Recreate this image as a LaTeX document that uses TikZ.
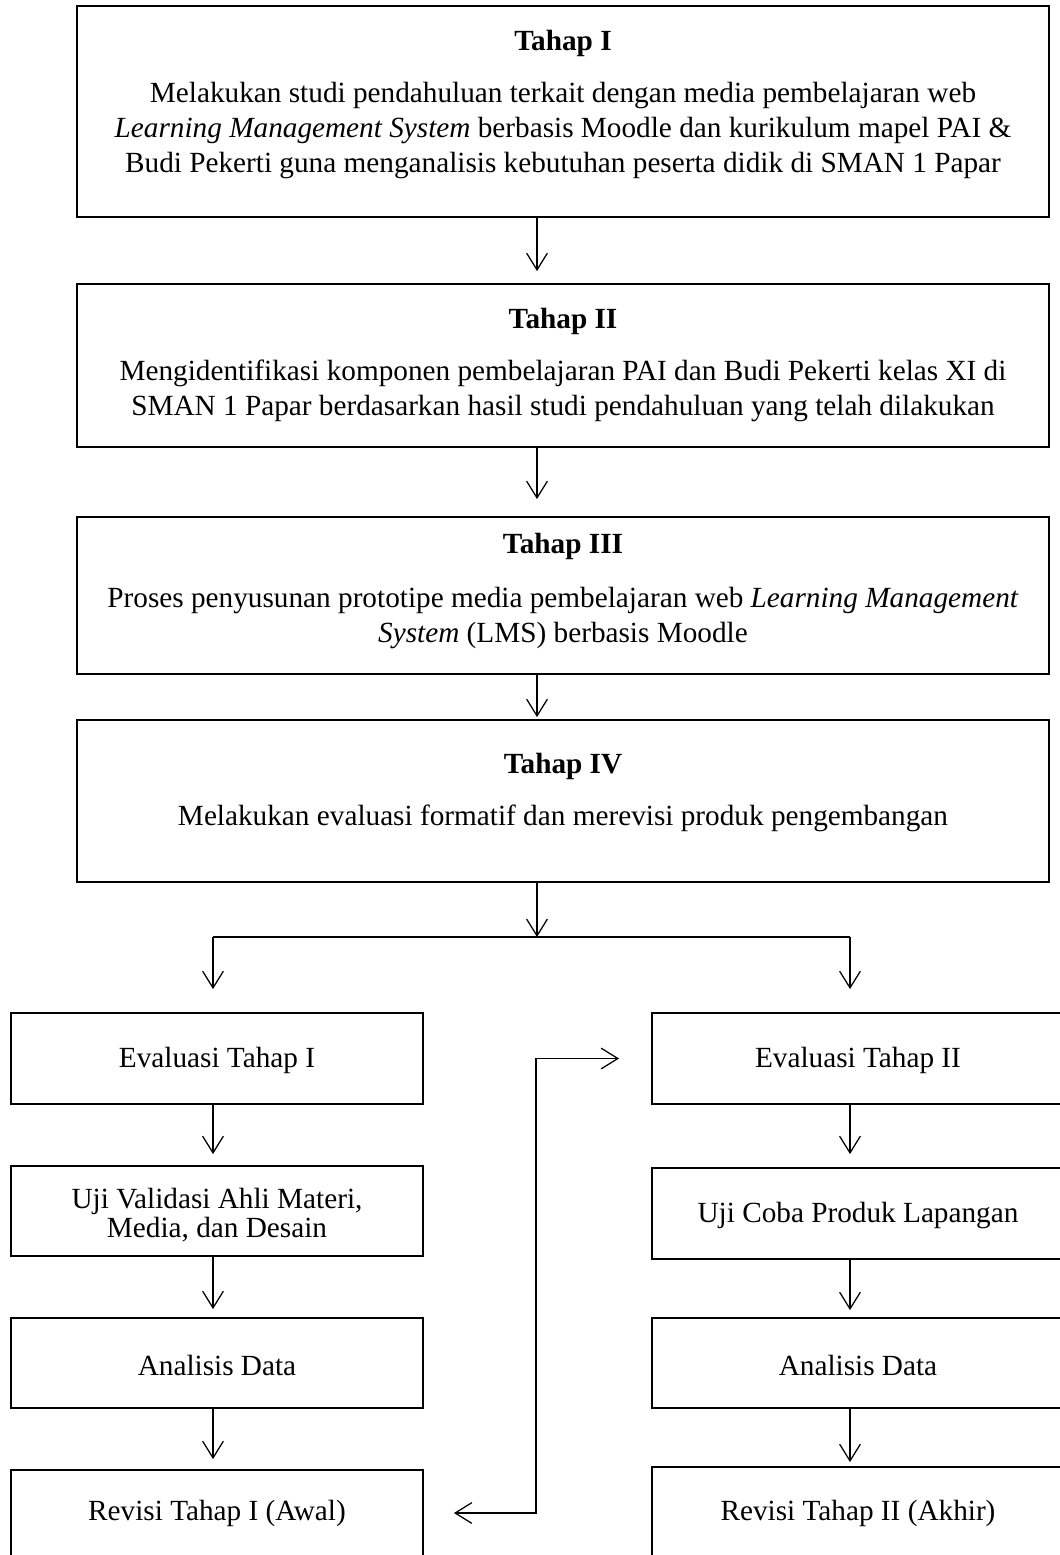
\documentclass[tikz,border=0pt]{standalone}
\usepackage{fontspec}
\setmainfont{Liberation Serif}
\usetikzlibrary{arrows.meta,fit}
\begin{document}
\begin{tikzpicture}[x=0.4pt,y=-0.4pt,
  box/.style={draw,line width=0.75pt,rectangle,inner sep=0pt},
  ttl/.style={font=\fontsize{11.7}{14}\selectfont\bfseries,inner sep=0pt},
  body/.style={font=\fontsize{11.7}{14}\selectfont,align=center,inner sep=0pt},
  small/.style={font=\fontsize{11.7}{10.4}\selectfont,align=center,inner sep=0pt},
  conn/.style={line width=0.5pt},
  arr/.style={conn,-{Straight Barb[length=6.7pt,width=8.3pt]}},
  darr/.style={conn,{Straight Barb[length=6.7pt,width=8.3pt]}-{Straight Barb[length=6.7pt,width=8.3pt]}}]
\useasboundingbox (0,0) rectangle (1060,1555);
\clip (0,0) rectangle (1060,1555);
% big boxes
\node[box,fit={(77,6) (1049,217)}] (t1) {};
\node[box,fit={(77,284) (1049,447)}] (t2) {};
\node[box,fit={(77,517) (1049,674)}] (t3) {};
\node[box,fit={(77,720) (1049,882)}] (t4) {};
% left column
\node[box,fit={(11,1013) (423,1104)}] (e1) {};
\node[box,fit={(11,1166) (423,1256)}] (u1) {};
\node[box,fit={(11,1318) (423,1408)}] (a1) {};
\node[box,fit={(11,1470) (423,1556)}] (r1) {};
% right column
\node[box,fit={(652,1013) (1065,1104)}] (e2) {};
\node[box,fit={(652,1168) (1065,1259)}] (u2) {};
\node[box,fit={(652,1318) (1065,1408)}] (a2) {};
\node[box,fit={(652,1467) (1065,1559)}] (r2) {};
% texts
\node[ttl] (t1h) at (563,43) {Tahap I};
\node[body] (t1b) at (563,130) {Melakukan studi pendahuluan terkait dengan media pembelajaran web\\\textit{Learning Management System} berbasis Moodle dan kurikulum mapel PAI \&\\Budi Pekerti guna menganalisis kebutuhan peserta didik di SMAN 1 Papar};
\node[ttl] (t2h) at (563,321) {Tahap II};
\node[body] (t2b) at (563,390.5) {Mengidentifikasi komponen pembelajaran PAI dan Budi Pekerti kelas XI di\\SMAN 1 Papar berdasarkan hasil studi pendahuluan yang telah dilakukan};
\node[ttl] (t3h) at (563,546) {Tahap III};
\node[body] (t3b) at (563,617.5) {Proses penyusunan prototipe media pembelajaran web \textit{Learning Management}\\\textit{System} (LMS) berbasis Moodle};
\node[ttl] (t4h) at (563,766) {Tahap IV};
\node[body] (t4b) at (563,818) {Melakukan evaluasi formatif dan merevisi produk pengembangan};
\node[body] (e1t) at (217,1060) {Evaluasi Tahap I};
\node[small] (u1t) at (217,1215) {Uji Validasi Ahli Materi,\\Media, dan Desain};
\node[body] (a1t) at (217,1365) {Analisis Data};
\node[body] (r1t) at (217,1513) {Revisi Tahap I (Awal)};
\node[body] (e2t) at (858,1060) {Evaluasi Tahap II};
\node[body] (u2t) at (858,1215) {Uji Coba Produk Lapangan};
\node[body] (a2t) at (858,1365) {Analisis Data};
\node[body] (r2t) at (858,1513) {Revisi Tahap II (Akhir)};
% connector points
\coordinate (cx) at (537,0);
\coordinate (split) at (537,937);
\coordinate (bl) at (213,937);
\coordinate (br) at (850,937);
\coordinate (fb) at (536,1058.5);
% main arrows
\draw[arr,shorten >=4.8pt] (t1.south -| cx) -- (t2.north -| cx);
\draw[arr,shorten >=6.8pt] (t2.south -| cx) -- (t3.north -| cx);
\draw[arr,shorten >=0.8pt] (t3.south -| cx) -- (t4.north -| cx);
\draw[arr] (t4.south -| cx) -- (split);
\draw[conn] (bl) -- (br);
\draw[arr,shorten >=9.2pt] (bl) -- (e1.north -| bl);
\draw[arr,shorten >=9.2pt] (br) -- (e2.north -| br);
% left column arrows
\draw[arr,shorten >=4.4pt] (e1.south -| bl) -- (u1.north -| bl);
\draw[arr,shorten >=3.2pt] (u1.south -| bl) -- (a1.north -| bl);
\draw[arr,shorten >=4pt] (a1.south -| bl) -- (r1.north -| bl);
% right column arrows
\draw[arr,shorten >=5.2pt] (e2.south -| br) -- (u2.north -| br);
\draw[arr,shorten >=2.8pt] (u2.south -| br) -- (a2.north -| br);
\draw[arr,shorten >=1.6pt] (a2.south -| br) -- (r2.north -| br);
% feedback
\draw[darr,shorten <=12pt,shorten >=12.8pt] (r1.east) -| (fb) -- (e2.west);
\end{tikzpicture}
\end{document}
